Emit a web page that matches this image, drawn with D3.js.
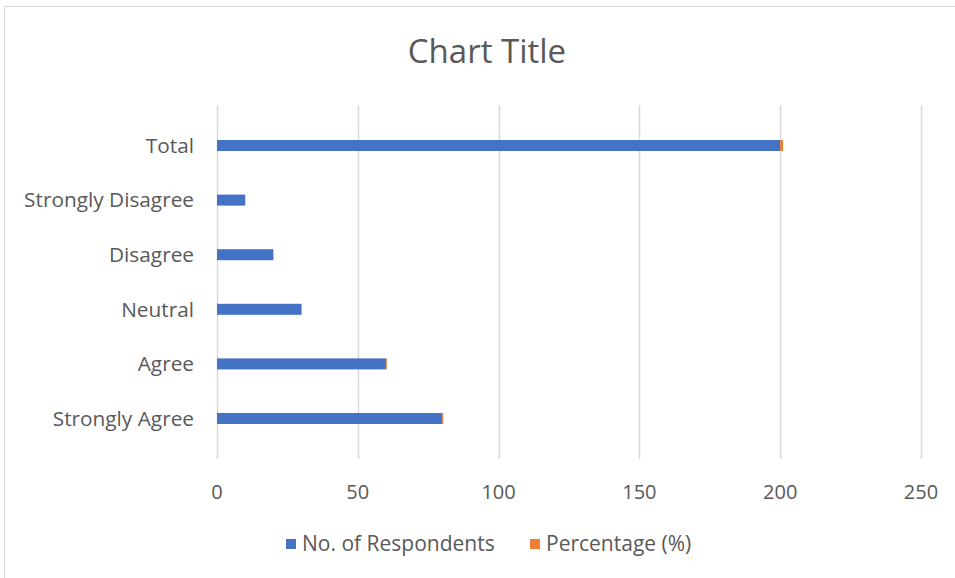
<!DOCTYPE html>
<html>
<head>
<meta charset="utf-8">
<script src="https://cdn.jsdelivr.net/npm/d3@7"></script>
<style>
  html, body { margin: 0; padding: 0; background: #fff; }
  svg { display: block; }
  text { font-family: "Open Sans", "Liberation Sans", sans-serif; fill: #595959; }
</style>
</head>
<body>
<svg id="chart" width="955" height="578"></svg>
<script>
// Data
const categories = ["Total", "Strongly Disagree", "Disagree", "Neutral", "Agree", "Strongly Agree"];
const respondents = [200, 10, 20, 30, 60, 80];
const percentage = [1, 0.05, 0.1, 0.15, 0.3, 0.4];
const seriesNames = ["No. of Respondents", "Percentage (%)"];
const xTicks = [0, 50, 100, 150, 200, 250];
const chartTitle = "Chart Title";

const colors = ["#4472C4", "#ED7D31"];

const svg = d3.select("#chart");

// chart area frame
svg.append("rect")
  .attr("x", 4.5).attr("y", 6.5)
  .attr("width", 980).attr("height", 600)
  .attr("fill", "#fff").attr("stroke", "#d9d9d9").attr("stroke-width", 1);

const plotLeft = 217, plotRight = 921, plotTop = 105, plotBottom = 459;

const x = d3.scaleLinear().domain([0, 250]).range([plotLeft, plotRight]);
const y = d3.scalePoint().domain(categories).range([plotTop, plotBottom]).padding(0.742);
const barH = 11;

// gridlines
svg.append("g").selectAll("line").data(xTicks).join("line")
  .attr("x1", d => Math.round(x(d)) + 0.5).attr("x2", d => Math.round(x(d)) + 0.5)
  .attr("y1", plotTop).attr("y2", plotBottom)
  .attr("stroke", "#d9d9d9").attr("stroke-width", 1.5);

// stacked data
const rows = categories.map((c, i) => ({ cat: c, vals: [respondents[i], percentage[i]] }));
const stack = d3.stack().keys([0, 1]).value((d, k) => d.vals[k]);
const layers = stack(rows);

svg.append("g").selectAll("g").data(layers).join("g")
  .attr("fill", (d, i) => colors[i])
  .selectAll("rect").data(d => d).join("rect")
  .attr("x", d => x(d[0]))
  .attr("width", d => Math.max(0, x(d[1]) - x(d[0])))
  .attr("y", d => y(d.data.cat) - barH / 2)
  .attr("height", barH);

// y axis labels
svg.append("g").selectAll("text").data(categories).join("text")
  .attr("x", 194).attr("y", d => y(d))
  .attr("dy", "0.35em")
  .attr("text-anchor", "end")
  .style("font-size", "20.8px")
  .text(d => d);

// x axis tick labels
svg.append("g").selectAll("text").data(xTicks).join("text")
  .attr("x", d => x(d)).attr("y", 492)
  .attr("dy", "0.35em")
  .attr("text-anchor", "middle")
  .style("font-size", "20px")
  .text(d => d);

// title
svg.append("text")
  .attr("x", 487).attr("y", 51)
  .attr("dy", "0.35em")
  .attr("text-anchor", "middle")
  .style("font-size", "33px")
  .text(chartTitle);

// legend
const legendX = [286, 530];
const lg = svg.append("g").selectAll("g").data(seriesNames).join("g")
  .attr("transform", (d, i) => `translate(${legendX[i]},544)`);
lg.append("rect").attr("x", 0).attr("y", -5).attr("width", 10).attr("height", 10)
  .attr("fill", (d, i) => colors[i]);
lg.append("text").attr("x", 16).attr("y", 0).attr("dy", "0.35em")
  .style("font-size", "21px")
  .text(d => d);
</script>
</body>
</html>
